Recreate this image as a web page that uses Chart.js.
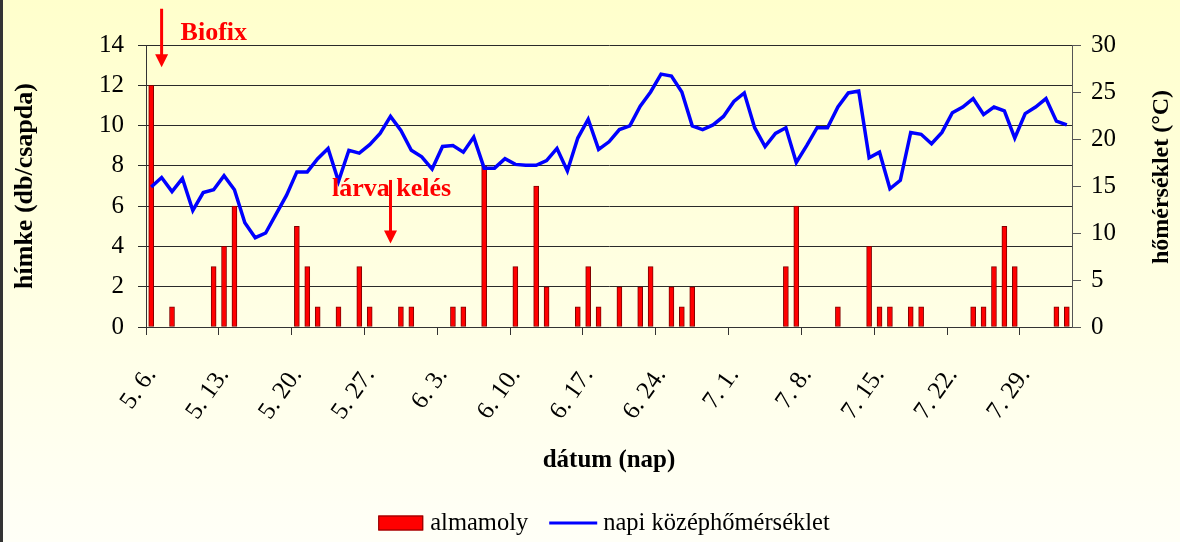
<!DOCTYPE html>
<html>
<head>
<meta charset="utf-8">
<script src="https://cdn.jsdelivr.net/npm/chart.js@4.4.1/dist/chart.umd.min.js"></script>
<style>
  html, body { margin: 0; padding: 0; background: #fff; }
</style>
</head>
<body>
<canvas id="almamoly-chart" width="1180" height="542"></canvas>
<script>
// napok: 5. 6. - 8. 2.
const days = [
  '5. 6.', '5. 7.', '5. 8.', '5. 9.', '5. 10.', '5. 11.', '5. 12.',
  '5. 13.', '5. 14.', '5. 15.', '5. 16.', '5. 17.', '5. 18.', '5. 19.',
  '5. 20.', '5. 21.', '5. 22.', '5. 23.', '5. 24.', '5. 25.', '5. 26.',
  '5. 27.', '5. 28.', '5. 29.', '5. 30.', '5. 31.', '6. 1.', '6. 2.',
  '6. 3.', '6. 4.', '6. 5.', '6. 6.', '6. 7.', '6. 8.', '6. 9.',
  '6. 10.', '6. 11.', '6. 12.', '6. 13.', '6. 14.', '6. 15.', '6. 16.',
  '6. 17.', '6. 18.', '6. 19.', '6. 20.', '6. 21.', '6. 22.', '6. 23.',
  '6. 24.', '6. 25.', '6. 26.', '6. 27.', '6. 28.', '6. 29.', '6. 30.',
  '7. 1.', '7. 2.', '7. 3.', '7. 4.', '7. 5.', '7. 6.', '7. 7.',
  '7. 8.', '7. 9.', '7. 10.', '7. 11.', '7. 12.', '7. 13.', '7. 14.',
  '7. 15.', '7. 16.', '7. 17.', '7. 18.', '7. 19.', '7. 20.', '7. 21.',
  '7. 22.', '7. 23.', '7. 24.', '7. 25.', '7. 26.', '7. 27.', '7. 28.',
  '7. 29.', '7. 30.', '7. 31.', '8. 1.', '8. 2.'
]

// hímek száma csapdánként
const almamoly = [
  12, 0, 1, 0, 0, 0, 3,
  4, 6, 0, 0, 0, 0, 0,
  5, 3, 1, 0, 1, 0, 3,
  1, 0, 0, 1, 1, 0, 0,
  0, 1, 1, 0, 8, 0, 0,
  3, 0, 7, 2, 0, 0, 1,
  3, 1, 0, 2, 0, 2, 3,
  0, 2, 1, 2, 0, 0, 0,
  0, 0, 0, 0, 0, 3, 6,
  0, 0, 0, 1, 0, 0, 4,
  1, 1, 0, 1, 1, 0, 0,
  0, 0, 1, 1, 3, 5, 3,
  0, 0, 0, 1, 1
]

// napi középhőmérséklet (°C)
const temperature = [
  14.9, 15.9, 14.4, 15.8, 12.4, 14.3, 14.6,
  16.1, 14.6, 11.1, 9.5, 10.0, 12.0, 14.0,
  16.5, 16.5, 17.9, 19.0, 15.5, 18.8, 18.5,
  19.4, 20.6, 22.4, 20.9, 18.8, 18.1, 16.8,
  19.2, 19.3, 18.6, 20.2, 16.9, 16.9, 17.9,
  17.3, 17.2, 17.2, 17.7, 19.0, 16.6, 20.1,
  22.1, 18.9, 19.7, 21.0, 21.4, 23.5, 25.0,
  26.9, 26.7, 25.0, 21.4, 21.0, 21.5, 22.4,
  24.0, 24.9, 21.2, 19.2, 20.6, 21.2, 17.5,
  19.3, 21.2, 21.2, 23.4, 24.9, 25.1, 18.0,
  18.6, 14.7, 15.6, 20.7, 20.5, 19.5, 20.7,
  22.8, 23.4, 24.3, 22.6, 23.4, 23.0, 20.1,
  22.7, 23.4, 24.3, 21.9, 21.5
]

const tickEvery = 7

// feliratok: nap indexe, nyíl teteje/hegye és a szöveg alapvonala (db/csapda skálán)
const notes = [
  { text: 'Biofix', day: 1, from: 15.8, to: 12.9, base: 14.25, dx: 19, align: 'left' },
  { text: 'lárva kelés', day: 23, from: 7.3, to: 4.15, base: 6.5, dx: 1, align: 'center' }
]

const serif = '"Liberation Serif", "Times New Roman", serif'
Chart.defaults.font.family = serif
Chart.defaults.color = '#000'

const arrow = (ctx, x, y0, y1) => {
  ctx.lineWidth = 3
  ctx.beginPath()
  ctx.moveTo(x, y0)
  ctx.lineTo(x, y1 - 10)
  ctx.stroke()
  ctx.beginPath()
  ctx.moveTo(x - 6.5, y1 - 13)
  ctx.lineTo(x + 6.5, y1 - 13)
  ctx.lineTo(x, y1)
  ctx.closePath()
  ctx.fill()
}

const backdrop = {
  id: 'backdrop',
  beforeDraw: (chart) => {
    const { ctx, width, height } = chart
    const g = ctx.createLinearGradient(0, 0, 0, height)
    g.addColorStop(0, '#ffffcc')
    g.addColorStop(1, '#fffff7')
    ctx.save()
    ctx.fillStyle = g
    ctx.fillRect(0, 0, width, height)
    ctx.fillStyle = '#333'
    ctx.fillRect(0, 0, 3, height)
    ctx.restore()
  }
}

const extras = {
  id: 'extras',
  afterDraw: (chart) => {
    const { ctx, chartArea, scales } = chart
    ctx.save()

    // jobb oldali tengelycím, alulról felfelé
    ctx.font = 'bold 24px ' + serif
    ctx.fillStyle = '#000'
    ctx.textAlign = 'center'
    ctx.textBaseline = 'middle'
    ctx.translate(chart.width - 18, (chartArea.top + chartArea.bottom) / 2 - 9)
    ctx.rotate(-Math.PI / 2)
    ctx.fillText('hőmérséklet (°C)', 0, 0)
    ctx.setTransform(1, 0, 0, 1, 0, 0)

    // nyilak és feliratok
    ctx.fillStyle = ctx.strokeStyle = '#ff0000'
    ctx.font = 'bold 26px ' + serif
    ctx.textBaseline = 'alphabetic'
    notes.forEach(n => {
      const x = scales.x.getPixelForValue(n.day)
      arrow(ctx, x, scales.y.getPixelForValue(n.from), scales.y.getPixelForValue(n.to))
      ctx.textAlign = n.align
      ctx.fillText(n.text, x + n.dx, scales.y.getPixelForValue(n.base))
    })

    // jelmagyarázat
    ctx.font = '24.5px ' + serif
    ctx.textAlign = 'left'
    ctx.textBaseline = 'middle'
    const items = chart.data.datasets.map(ds => ds.label)
    const widths = items.map(t => ctx.measureText(t).width)
    const total = 45 + 7 + widths[0] + 21 + 48 + 6 + widths[1]
    let lx = (chartArea.left + chartArea.right) / 2 - 5 - total / 2
    const ly = chart.height - 19
    ctx.fillStyle = '#ff0000'
    ctx.fillRect(lx, ly - 7.5, 45, 15)
    ctx.strokeStyle = '#800000'
    ctx.lineWidth = 1
    ctx.strokeRect(lx + 0.5, ly - 7, 44, 14)
    lx += 52
    ctx.fillStyle = '#000'
    ctx.fillText(items[0], lx, ly + 1)
    lx += widths[0] + 21
    ctx.strokeStyle = '#0000ff'
    ctx.lineWidth = 3
    ctx.beginPath()
    ctx.moveTo(lx, ly)
    ctx.lineTo(lx + 48, ly)
    ctx.stroke()
    lx += 54
    ctx.fillText(items[1], lx, ly + 1)

    ctx.restore()
  }
}

const tickColor = (c) => c.index % tickEvery === 0 ? '#333' : 'rgba(0,0,0,0)'

new Chart(document.getElementById('almamoly-chart'), {
  type: 'bar',
  data: {
    labels: days,
    datasets: [
      {
        label: 'almamoly',
        data: almamoly,
        yAxisID: 'y',
        backgroundColor: '#ff0000',
        borderColor: '#800000',
        borderWidth: 1,
        borderSkipped: false,
        barThickness: 5,
        order: 1
      },
      {
        type: 'line',
        label: 'napi középhőmérséklet',
        data: temperature,
        yAxisID: 'y1',
        borderColor: '#0000ff',
        borderWidth: 3.5,
        pointRadius: 0,
        tension: 0,
        order: 0
      }
    ]
  },
  options: {
    responsive: false,
    animation: false,
    events: [],
    layout: { padding: { top: 45, left: 0, right: 0, bottom: 66 } },
    plugins: {
      legend: { display: false },
      tooltip: { enabled: false }
    },
    scales: {
      x: {
        grid: { color: tickColor, drawOnChartArea: false, tickLength: 8, offset: true },
        border: { color: '#333' },
        ticks: {
          autoSkip: false,
          minRotation: 55,
          maxRotation: 55,
          padding: 27,
          font: { size: 25 },
          callback: (v, i) => i % tickEvery === 0 ? days[i] : ''
        },
        title: { display: true, text: 'dátum (nap)', font: { size: 25, weight: 'bold' }, padding: 0 },
        afterFit: (s) => { s.height = 149 }
      },
      y: {
        position: 'left',
        min: 0,
        max: 14,
        ticks: { stepSize: 2, padding: 14, font: { size: 25 } },
        grid: { color: '#2a2a2a', tickLength: 8 },
        border: { color: '#333' },
        title: { display: true, text: 'hímke (db/csapda)', font: { size: 26, weight: 'bold' }, padding: { top: 10, bottom: 0 } },
        afterFit: (s) => { s.width = 146 }
      },
      y1: {
        position: 'right',
        min: 0,
        max: 30,
        ticks: { stepSize: 5, padding: 10, font: { size: 25 } },
        grid: { drawOnChartArea: false, color: '#555', tickLength: 9 },
        border: { color: '#555' },
        afterFit: (s) => { s.width = 108 }
      }
    }
  },
  plugins: [backdrop, extras]
})
</script>
</body>
</html>
